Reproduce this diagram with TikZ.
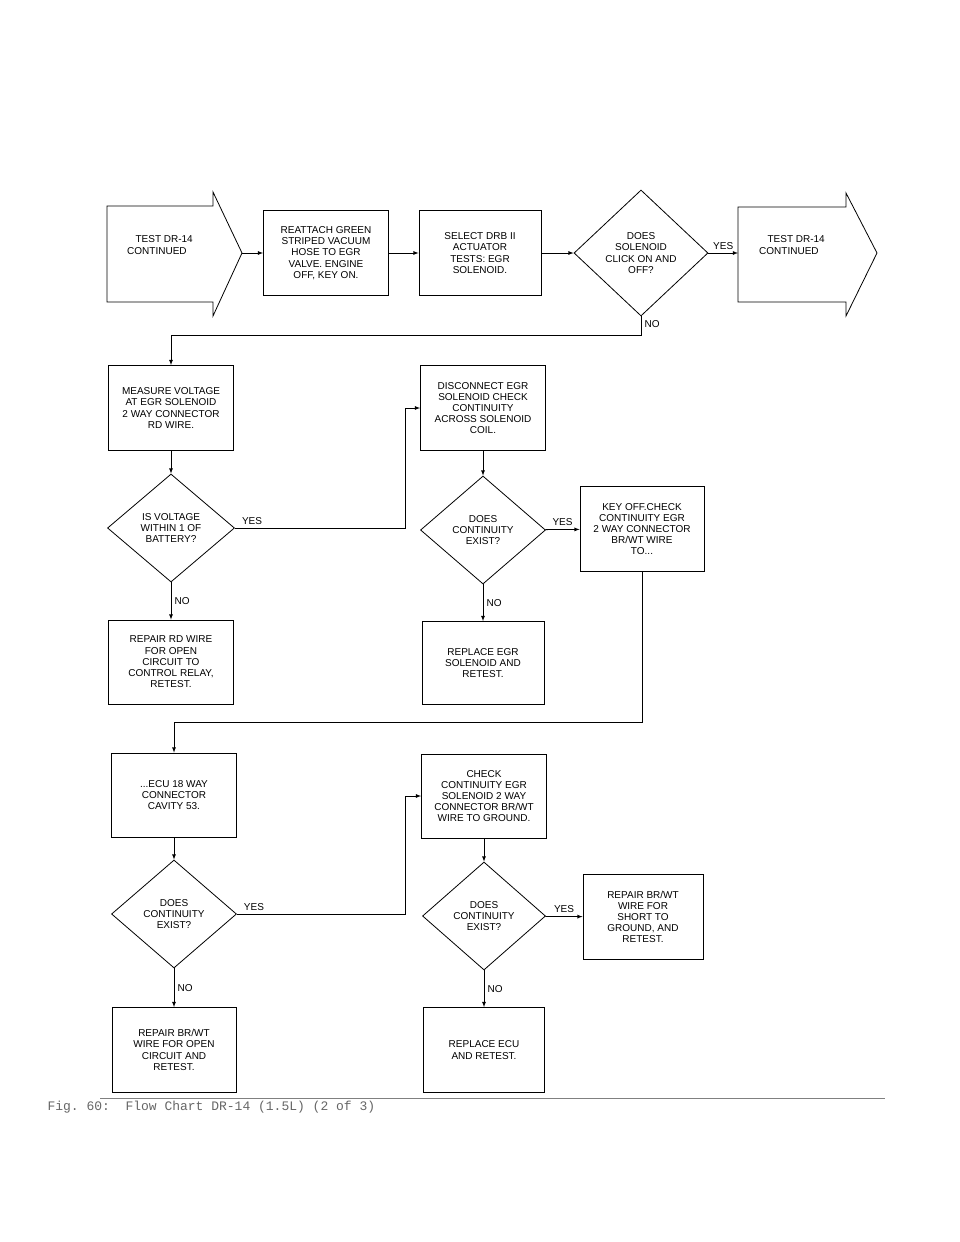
\documentclass[tikz,border=0pt]{standalone}
\usepackage{fontspec}
\setmainfont{Liberation Sans}
\setmonofont{Liberation Mono}
\usetikzlibrary{shapes.geometric,arrows}
\tikzset{
  stepbox/.style={draw,thick,minimum width=125pt,minimum height=85pt,align=center,inner sep=2pt,font=\fontsize{10}{11.2}\selectfont},
  ask/.style={draw,thick,diamond,aspect=1.17,minimum width=126pt,minimum height=108pt,align=center,inner sep=0pt,font=\fontsize{10}{11.2}\selectfont},
  lbl/.style={font=\fontsize{10}{11.2}\selectfont},
  flow/.style={thick,-latex}
}
\begin{document}
\begin{tikzpicture}[x=1pt,y=-1pt]
\useasboundingbox (0,0) rectangle (960,1242);
% arrow shaped blocks
\draw[thick] (107,206) -- (213,206) -- (213,192) -- (242,253) -- (213,316) -- (213,302) -- (107,302) -- cycle;
\node[lbl,align=left] (in) at (160,245) {\ \ \ TEST DR-14\\CONTINUED};
\coordinate (intip) at (242,253);
\draw[thick] (738,207) -- (846,207) -- (846,193) -- (877,253) -- (846,316) -- (846,302) -- (738,302) -- cycle;
\coordinate (outtip) at (738,253);
\node[lbl,align=left] (out) at (792,245) {\ \ \ TEST DR-14\\CONTINUED};
% first row
\node[stepbox] (reattach) at (326,253) {REATTACH GREEN\\STRIPED VACUUM\\HOSE TO EGR\\VALVE. ENGINE\\OFF, KEY ON.};
\node[stepbox,minimum width=122pt] (select) at (480,253) {SELECT DRB II\\ACTUATOR\\TESTS: EGR\\SOLENOID.};
\node[ask,minimum width=134pt,minimum height=126pt] (click) at (641,253) {DOES\\SOLENOID\\CLICK ON AND\\OFF?};
\draw[flow] (intip) -- (reattach);
\draw[flow] (reattach) -- (select);
\draw[flow] (select) -- (click);
\draw[flow] (click) -- node[lbl,above]{YES} (outtip);
% second block
\node[stepbox] (measure) at (171,408) {MEASURE VOLTAGE\\AT EGR SOLENOID\\2 WAY CONNECTOR\\RD WIRE.};
\node[ask,minimum width=127pt] (voltage) at (171,528) {IS VOLTAGE\\WITHIN 1 OF\\BATTERY?};
\node[stepbox,minimum height=84pt] (repairrd) at (171,662) {REPAIR RD WIRE\\FOR OPEN\\CIRCUIT TO\\CONTROL RELAY,\\RETEST.};
\node[stepbox] (disconnect) at (483,408) {DISCONNECT EGR\\SOLENOID CHECK\\CONTINUITY\\ACROSS SOLENOID\\COIL.};
\node[ask,minimum width=125pt] (coil) at (483,530) {DOES\\CONTINUITY\\EXIST?};
\node[stepbox,minimum width=122pt,minimum height=83pt] (replaceegr) at (483,663) {REPLACE EGR\\SOLENOID AND\\RETEST.};
\node[stepbox,minimum width=124pt] (keyoff) at (642,529) {KEY OFF.CHECK\\CONTINUITY EGR\\2 WAY CONNECTOR\\BR/WT WIRE\\TO...};
\draw[flow] (click.south) -- node[lbl,right,pos=0.4]{NO} ++(0,19) -| (measure.north);
\draw[flow] (measure) -- (voltage);
\draw[flow] (voltage) -- node[lbl,right]{NO} (repairrd);
\draw[flow] (voltage.east) -- node[lbl,above right,pos=0.02]{YES} (405,528) |- (disconnect.west);
\draw[flow] (disconnect) -- (coil);
\draw[flow] (coil) -- node[lbl,right]{NO} (replaceegr);
\draw[flow] (coil) -- node[lbl,above]{YES} (keyoff);
% third block
\node[stepbox,minimum height=84pt] (ecu) at (174,795) {...ECU 18 WAY\\CONNECTOR\\CAVITY 53.};
\node[ask,minimum width=125pt] (ecucont) at (174,914) {DOES\\CONTINUITY\\EXIST?};
\node[stepbox,minimum width=124pt] (repairopen) at (174,1050) {REPAIR BR/WT\\WIRE FOR OPEN\\CIRCUIT AND\\RETEST.};
\node[stepbox,minimum height=84pt] (check) at (484,796) {CHECK\\CONTINUITY EGR\\SOLENOID 2 WAY\\CONNECTOR BR/WT\\WIRE TO GROUND.};
\node[ask,minimum width=123pt] (ground) at (484,916) {DOES\\CONTINUITY\\EXIST?};
\node[stepbox,minimum width=121pt] (replaceecu) at (484,1050) {REPLACE ECU\\AND RETEST.};
\node[stepbox,minimum width=120pt] (repairshort) at (643,917) {REPAIR BR/WT\\WIRE FOR\\SHORT TO\\GROUND, AND\\RETEST.};
\draw[flow] (keyoff.south) -- ++(0,150) -| (ecu.north);
\draw[flow] (ecu) -- (ecucont);
\draw[flow] (ecucont) -- node[lbl,right]{NO} (repairopen);
\draw[flow] (ecucont.east) -- node[lbl,above right,pos=0.02]{YES} (405,914) |- (check.west);
\draw[flow] (check) -- (ground);
\draw[flow] (ground) -- node[lbl,right]{NO} (replaceecu);
\draw[flow] (ground) -- node[lbl,above]{YES} (repairshort);
% caption
\draw[gray] (100,1098) -- (885,1098);
\node[anchor=west,text=black!60,font=\ttfamily\fontsize{13}{14}\selectfont] (caption) at (44,1107) {Fig. 60:\ \ Flow Chart DR-14 (1.5L) (2 of 3)};
\end{tikzpicture}
\end{document}
